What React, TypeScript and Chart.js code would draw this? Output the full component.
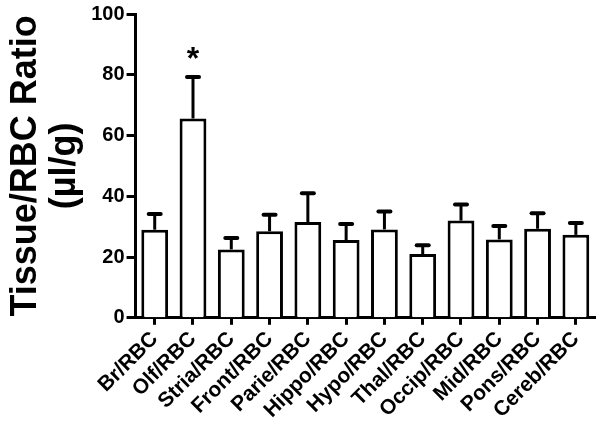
import React, { useEffect, useRef } from "react";
import { Chart, registerables } from "chart.js";

Chart.register(...registerables);

const categories = [
  "Br/RBC", "Olf/RBC", "Stria/RBC", "Front/RBC", "Parie/RBC", "Hippo/RBC",
  "Hypo/RBC", "Thal/RBC", "Occip/RBC", "Mid/RBC", "Pons/RBC", "Cereb/RBC",
];
const meanValues = [29.0, 65.6, 22.5, 28.5, 31.5, 25.6, 29.1, 21.0, 32.0, 25.8, 29.3, 27.3];
const errorValues = [5.2, 13.7, 3.8, 5.4, 9.5, 5.3, 5.9, 2.9, 5.3, 4.4, 5.1, 3.9];
const significance = ["", "*", "", "", "", "", "", "", "", "", "", ""];
const yTicks = [0, 20, 40, 60, 80, 100];

const errorBarPlugin = {
  id: "errorBars",
  afterDatasetsDraw(chart: any) {
    const ctx = chart.ctx;
    const x = chart.scales.x;
    const y = chart.scales.y;
    ctx.save();
    ctx.strokeStyle = "#000";
    ctx.fillStyle = "#000";
    meanValues.forEach((v, i) => {
      const px = x.getPixelForValue(i);
      const y0 = y.getPixelForValue(v);
      const y1 = y.getPixelForValue(v + errorValues[i]);
      ctx.lineCap = "butt";
      ctx.lineWidth = 3;
      ctx.beginPath();
      ctx.moveTo(px, y0);
      ctx.lineTo(px, y1);
      ctx.stroke();
      ctx.lineCap = "round";
      ctx.lineWidth = 4;
      ctx.beginPath();
      ctx.moveTo(px - 6, y1);
      ctx.lineTo(px + 6, y1);
      ctx.stroke();
      if (significance[i]) {
        ctx.font = "bold 32px Arial, 'Liberation Sans', sans-serif";
        ctx.textAlign = "center";
        ctx.textBaseline = "alphabetic";
        ctx.fillText(significance[i], px, y1 - 8);
      }
    });
    ctx.restore();
  },
};

export default function App() {
  const ref = useRef<HTMLCanvasElement | null>(null);
  useEffect(() => {
    if (!ref.current) return;
    const font = "Arial, 'Liberation Sans', sans-serif";
    const chart = new Chart(ref.current, {
      type: "bar",
      data: {
        labels: categories,
        datasets: [
          {
            data: meanValues,
            backgroundColor: "#ffffff",
            borderColor: "#000000",
            borderWidth: 3,
            barPercentage: 0.7,
            categoryPercentage: 1,
          },
        ],
      },
      options: {
        animation: false,
        responsive: false,
        maintainAspectRatio: false,
        layout: { padding: { top: -3, right: 5, left: 6, bottom: 8 } },
        plugins: { legend: { display: false }, tooltip: { enabled: false } },
        scales: {
          x: {
            grid: {
              offset: false,
              drawOnChartArea: false,
              drawTicks: true,
              tickLength: 7,
              tickWidth: 3,
              tickColor: "#000",
            },
            border: { display: true, color: "#000", width: 3 },
            ticks: {
              color: "#000",
              font: { family: font, size: 21, weight: "bold" },
              maxRotation: 45,
              minRotation: 45,
              padding: 2,
              autoSkip: false,
            },
          },
          y: {
            min: 0,
            max: 100,
            afterBuildTicks: (axis: any) => {
              axis.ticks = yTicks.map((v) => ({ value: v }));
            },
            grid: {
              drawOnChartArea: false,
              drawTicks: true,
              tickLength: 9,
              tickWidth: 3,
              tickColor: "#000",
            },
            border: { display: true, color: "#000", width: 3 },
            ticks: {
              color: "#000",
              font: { family: font, size: 20, weight: "bold" },
              padding: 2,
            },
            title: {
              display: true,
              text: ["Tissue/RBC Ratio", "(µl/g)"],
              color: "#000",
              font: { family: font, size: 36, weight: "bold", lineHeight: 1.1 },
              padding: { top: 0, bottom: 4 },
            },
          },
        },
      },
      plugins: [errorBarPlugin],
    });
    return () => chart.destroy();
  }, []);
  return (
    <div style={{ position: "absolute", left: 0, top: 0, width: 600, height: 433, background: "#fff" }}>
      <canvas ref={ref} width={600} height={433} style={{ width: 600, height: 433 }} />
    </div>
  );
}
